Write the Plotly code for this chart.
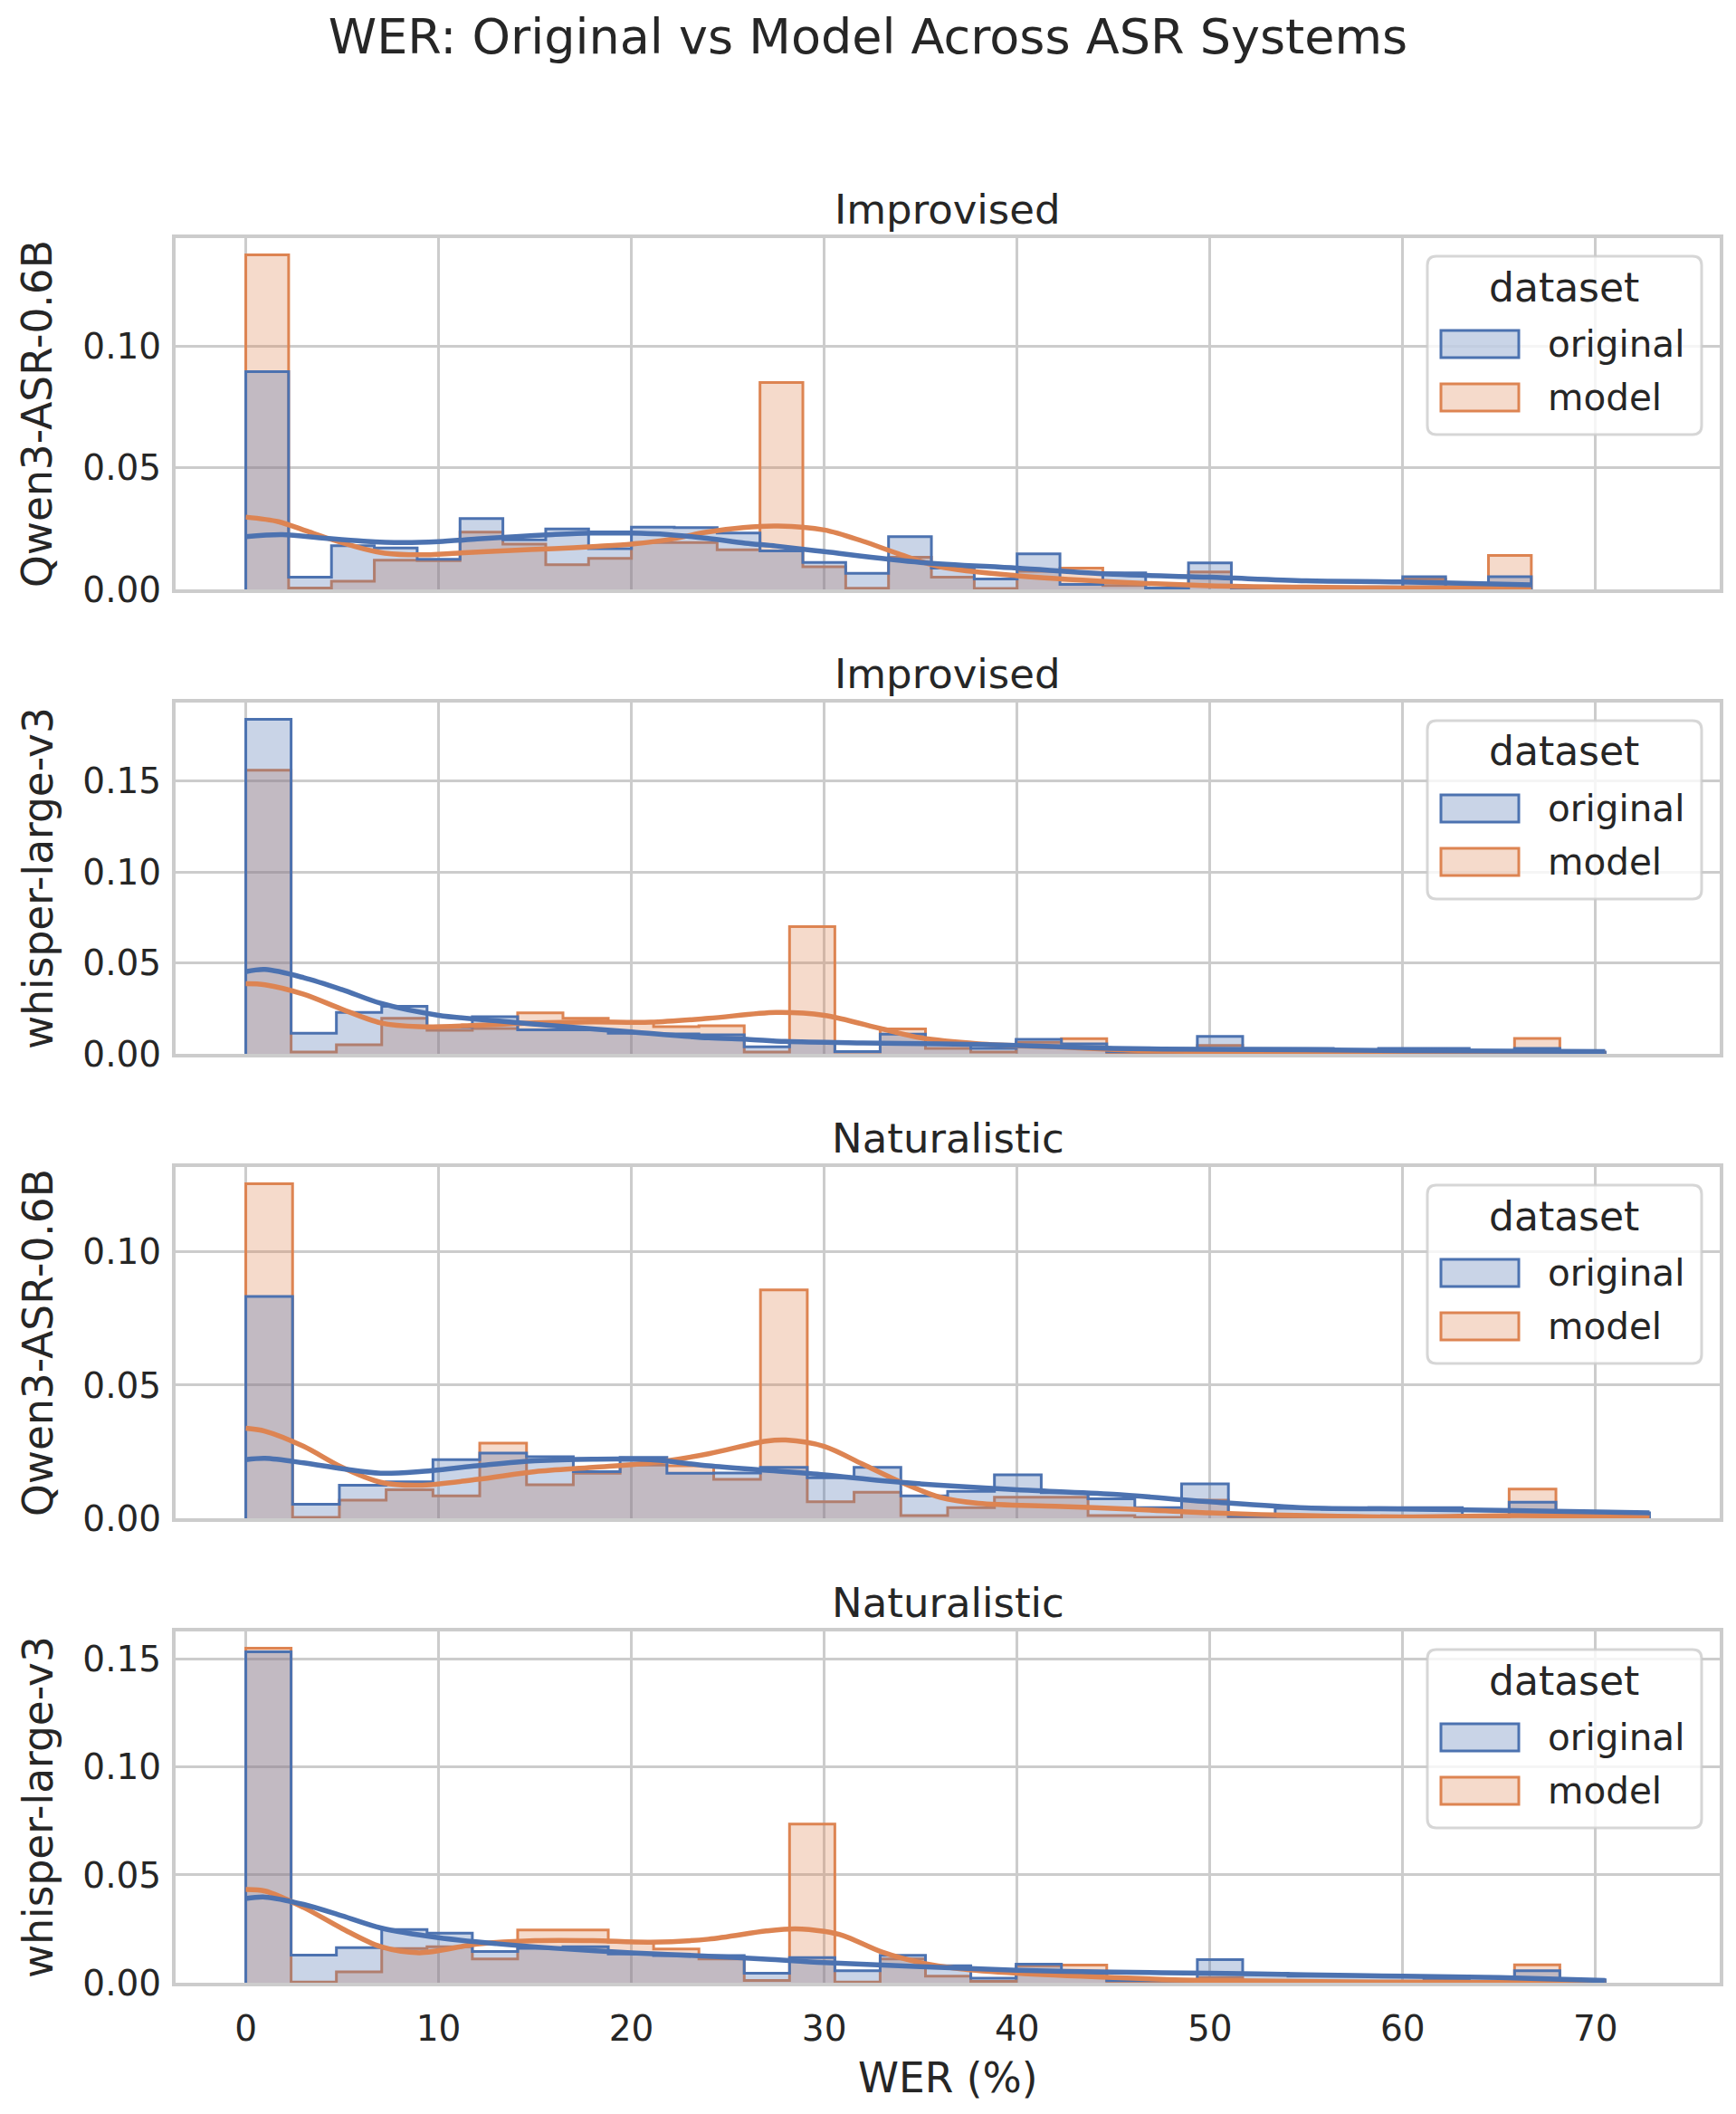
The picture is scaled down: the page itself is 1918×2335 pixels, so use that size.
import numpy as np
import plotly.graph_objects as go

# ---------------- data ----------------
SUPTITLE = "WER: Original vs Model Across ASR Systems"
X_LABEL = "WER (%)"
PANEL_TITLES = ["Improvised", "Improvised", "Naturalistic", "Naturalistic"]
ASR_SYSTEMS = ["Qwen3-ASR-0.6B", "whisper-large-v3", "Qwen3-ASR-0.6B", "whisper-large-v3"]
LEGEND_TITLE = "dataset"
DATASETS = ["original", "model"]
N_BINS = 30
WER_MAX = [66.67, 70.5, 72.8, 70.5]
X_TICKS = [0, 10, 20, 30, 40, 50, 60, 70]
Y_TICKS = [[0.0, 0.05, 0.10], [0.0, 0.05, 0.10, 0.15],
           [0.0, 0.05, 0.10], [0.0, 0.05, 0.10, 0.15]]

# density per bin (30 equal bins from 0 to WER_MAX)
hist_original_1 = [0.0894, 0.0050, 0.0179, 0.0170, 0.0124, 0.0291, 0.0204, 0.0248, 0.0167, 0.0256,
                   0.0254, 0.0231, 0.0158, 0.0111, 0.0066, 0.0217, 0.0087, 0.0043, 0.0146, 0.0020,
                   0.0068, 0.0006, 0.0109, 0.0006, 0.0006, 0.0010, 0.0010, 0.0052, 0.0010, 0.0052]
hist_model_1 = [0.1374, 0.0006, 0.0033, 0.0120, 0.0118, 0.0235, 0.0186, 0.0101, 0.0127, 0.0192,
                0.0192, 0.0163, 0.0850, 0.0093, 0.0005, 0.0132, 0.0050, 0.0004, 0.0074, 0.0087,
                0.0016, 0.0006, 0.0072, 0.0003, 0.0003, 0.0003, 0.0003, 0.0043, 0.0010, 0.0139]

hist_original_2 = [0.1840, 0.0113, 0.0228, 0.0262, 0.0146, 0.0204, 0.0132, 0.0132, 0.0113, 0.0110,
                   0.0104, 0.0038, 0.0063, 0.0013, 0.0108, 0.0055, 0.0030, 0.0080, 0.0055, 0.0013,
                   0.0013, 0.0096, 0.0030, 0.0030, 0.0020, 0.0030, 0.0030, 0.0015, 0.0030, 0.0010]
hist_model_2 = [0.1560, 0.0010, 0.0050, 0.0195, 0.0129, 0.0140, 0.0225, 0.0195, 0.0175, 0.0149,
                0.0154, 0.0010, 0.0700, 0.0010, 0.0137, 0.0030, 0.0010, 0.0063, 0.0083, 0.0005,
                0.0003, 0.0046, 0.0005, 0.0005, 0.0003, 0.0003, 0.0003, 0.0005, 0.0085, 0.0003]

hist_original_3 = [0.0833, 0.0053, 0.0124, 0.0137, 0.0220, 0.0245, 0.0231, 0.0175, 0.0229, 0.0169,
                   0.0170, 0.0191, 0.0152, 0.0191, 0.0084, 0.0101, 0.0163, 0.0096, 0.0073, 0.0040,
                   0.0129, 0.0008, 0.0037, 0.0034, 0.0040, 0.0040, 0.0010, 0.0060, 0.0020, 0.0020]
hist_model_3 = [0.1256, 0.0003, 0.0068, 0.0107, 0.0084, 0.0282, 0.0126, 0.0169, 0.0200, 0.0197,
                0.0146, 0.0857, 0.0062, 0.0098, 0.0010, 0.0040, 0.0079, 0.0079, 0.0010, 0.0003,
                0.0068, 0.0003, 0.0003, 0.0003, 0.0003, 0.0003, 0.0003, 0.0110, 0.0003, 0.0003]

hist_original_4 = [0.1534, 0.0128, 0.0163, 0.0247, 0.0230, 0.0145, 0.0160, 0.0167, 0.0133, 0.0126,
                   0.0126, 0.0044, 0.0116, 0.0056, 0.0127, 0.0079, 0.0021, 0.0086, 0.0044, 0.0010,
                   0.0010, 0.0107, 0.0044, 0.0030, 0.0030, 0.0030, 0.0014, 0.0004, 0.0056, 0.0014]
hist_model_4 = [0.1551, 0.0003, 0.0050, 0.0158, 0.0167, 0.0110, 0.0244, 0.0244, 0.0188, 0.0156,
                0.0110, 0.0010, 0.0736, 0.0003, 0.0110, 0.0030, 0.0006, 0.0079, 0.0082, 0.0003,
                0.0005, 0.0024, 0.0005, 0.0005, 0.0005, 0.0005, 0.0005, 0.0005, 0.0083, 0.0003]

kde_x_original_1 = [0, 1.9, 4.1, 6.1, 8.1, 10, 12, 14, 15.9, 17.9, 19.9, 21.9, 23.9, 25.9, 27.5,
                    30, 35, 40, 45, 50, 55, 60, 66.67]
kde_y_original_1 = [0.0217, 0.0225, 0.0210, 0.0198, 0.0192, 0.0196, 0.0207, 0.0217, 0.0225, 0.0231,
                    0.0231, 0.0225, 0.0210, 0.0190, 0.0178, 0.0155, 0.0111, 0.0087, 0.0062, 0.0050,
                    0.0035, 0.0031, 0.0019]
kde_x_model_1 = [0, 1.7, 3.1, 4.5, 6.1, 7.2, 9, 11, 14, 16, 18, 20, 21.9, 23.9, 25.8, 27.6,
                 30, 32, 34, 36, 40, 45, 50, 55, 60, 66.67]
kde_y_model_1 = [0.0297, 0.0278, 0.0241, 0.0204, 0.0167, 0.0149, 0.0142, 0.0149, 0.0161, 0.0167,
                 0.0176, 0.0186, 0.0204, 0.0235, 0.0254, 0.0260, 0.0244, 0.0198, 0.0142, 0.0093,
                 0.0056, 0.0031, 0.0015, 0.0009, 0.0006, 0.0008]

kde_x_original_2 = [0, 1, 3, 5, 7, 10, 13, 16, 20, 24, 26, 28, 32, 36, 40, 45, 50, 55, 60, 70.5]
kde_y_original_2 = [0.0452, 0.0464, 0.0419, 0.0353, 0.0278, 0.0212, 0.0182, 0.0154, 0.0121, 0.0088,
                    0.0080, 0.0068, 0.0060, 0.0055, 0.0046, 0.0030, 0.0025, 0.0022, 0.0018, 0.0013]
kde_x_model_2 = [0, 1, 3, 5, 7, 9, 12, 15, 18, 21, 24, 27.5, 30, 33, 35, 38, 42, 47, 55, 65, 70.5]
kde_y_model_2 = [0.0386, 0.0380, 0.0328, 0.0245, 0.0170, 0.0149, 0.0157, 0.0170, 0.0175, 0.0174,
                 0.0195, 0.0228, 0.0212, 0.0137, 0.0088, 0.0055, 0.0038, 0.0017, 0.0008, 0.0005,
                 0.0005]

kde_x_original_3 = [0, 1, 3, 5, 7, 9, 12, 15, 18, 21, 24, 27, 30, 33, 36, 40, 45, 50, 55, 60, 65, 72.8]
kde_y_original_3 = [0.0220, 0.0225, 0.0208, 0.0186, 0.0169, 0.0175, 0.0197, 0.0216, 0.0222, 0.0220,
                    0.0197, 0.0180, 0.0163, 0.0141, 0.0124, 0.0107, 0.0090, 0.0062, 0.0039, 0.0035,
                    0.0030, 0.0020]
kde_x_model_3 = [0, 1, 3, 5, 7, 9, 12, 15, 18, 21, 24, 27, 28, 30, 32, 34, 36, 38, 42, 46, 50,
                 55, 60, 66, 72.8]
kde_y_model_3 = [0.0338, 0.0327, 0.0270, 0.0191, 0.0135, 0.0124, 0.0146, 0.0175, 0.0191, 0.0208,
                 0.0242, 0.0290, 0.0294, 0.0270, 0.0203, 0.0135, 0.0079, 0.0056, 0.0045, 0.0034,
                 0.0020, 0.0010, 0.0005, 0.0010, 0.0003]

kde_x_original_4 = [0, 1, 3, 5, 7, 10, 13, 16, 20, 24, 27, 30, 35, 40, 45, 50, 55, 60, 65, 70.5]
kde_y_original_4 = [0.0390, 0.0397, 0.0363, 0.0310, 0.0254, 0.0209, 0.0181, 0.0160, 0.0139, 0.0123,
                    0.0109, 0.0093, 0.0075, 0.0058, 0.0049, 0.0044, 0.0037, 0.0030, 0.0024, 0.0010]
kde_x_model_4 = [0, 1, 3, 5, 7, 9, 12, 15, 18, 21, 24, 27, 28.5, 30, 31, 33, 35, 37, 40, 45, 50,
                 60, 70.5]
kde_y_model_4 = [0.0432, 0.0425, 0.0349, 0.0251, 0.0167, 0.0139, 0.0179, 0.0195, 0.0195, 0.0188,
                 0.0202, 0.0240, 0.0250, 0.0238, 0.0218, 0.0142, 0.0093, 0.0065, 0.0044, 0.0024,
                 0.0010, 0.0003, 0.0002]

HIST_ORIGINAL = [hist_original_1, hist_original_2, hist_original_3, hist_original_4]
HIST_MODEL = [hist_model_1, hist_model_2, hist_model_3, hist_model_4]
KDE_ORIGINAL = [(kde_x_original_1, kde_y_original_1), (kde_x_original_2, kde_y_original_2),
                (kde_x_original_3, kde_y_original_3), (kde_x_original_4, kde_y_original_4)]
KDE_MODEL = [(kde_x_model_1, kde_y_model_1), (kde_x_model_2, kde_y_model_2),
             (kde_x_model_3, kde_y_model_3), (kde_x_model_4, kde_y_model_4)]

# ---------------- styling / layout ----------------
W, H = 1918, 2335
L, R, T, B = 194, 1900, 263, 2191
PANEL_H, PANEL_STEP = 388, 513
FONT = "DejaVu Sans"
TXT = "#262626"
GRID = "#cccccc"
BLUE, ORANGE = "#4C72B0", "#DD8452"
BLUE_FILL, ORANGE_FILL = "rgba(76,114,176,0.3)", "rgba(221,132,82,0.3)"


def px_x(p):
    return (p - L) / (R - L)


def px_y(p):
    return (B - p) / (B - T)


def step_xy(edges, h):
    xs = [edges[0]] + list(edges[:-1]) + [edges[-1], edges[-1]]
    ys = [0.0] + list(h) + [h[-1], 0.0]
    return xs, ys


xmax_all = max(WER_MAX)
x_range = [-0.05 * xmax_all, xmax_all * 1.05]

fig = go.Figure()
annotations = []
shapes = []

for k in range(4):
    xa = "x" if k == 0 else f"x{k+1}"
    ya = "y" if k == 0 else f"y{k+1}"
    edges = np.linspace(0, WER_MAX[k], N_BINS + 1)

    for h, col, fill in [(HIST_MODEL[k], ORANGE, ORANGE_FILL), (HIST_ORIGINAL[k], BLUE, BLUE_FILL)]:
        xs, ys = step_xy(edges, h)
        fig.add_trace(go.Scatter(x=xs, y=ys, mode="lines", line=dict(shape="hv", color=col, width=3),
                                 fill="tozeroy", fillcolor=fill, xaxis=xa, yaxis=ya,
                                 showlegend=False, hoverinfo="skip"))
    for (kx, ky), col in [(KDE_MODEL[k], ORANGE), (KDE_ORIGINAL[k], BLUE)]:
        fig.add_trace(go.Scatter(x=kx, y=ky, mode="lines",
                                 line=dict(shape="spline", smoothing=0.9, color=col, width=5.5),
                                 xaxis=xa, yaxis=ya, showlegend=False, hoverinfo="skip"))

    top = T + k * PANEL_STEP
    bot = top + PANEL_H
    ymax = 1.05 * max(max(HIST_MODEL[k]), max(HIST_ORIGINAL[k]))
    xkey = "xaxis" if k == 0 else f"xaxis{k+1}"
    ykey = "yaxis" if k == 0 else f"yaxis{k+1}"
    fig.layout[xkey] = dict(
        domain=[0, 1], anchor=ya, range=x_range, tickvals=X_TICKS,
        showticklabels=(k == 3), showgrid=True, gridcolor=GRID, gridwidth=3,
        showline=True, linecolor=GRID, linewidth=4, mirror=True, zeroline=False, ticks="",
        tickfont=dict(family=FONT, size=39, color=TXT), ticklabelstandoff=13,
        matches=None if k == 3 else "x4",
    )
    fig.layout[ykey] = dict(
        domain=[px_y(bot), px_y(top)], anchor=xa, range=[0, ymax], tickvals=Y_TICKS[k],
        tickformat=".2f", showgrid=True, gridcolor=GRID, gridwidth=3,
        showline=True, linecolor=GRID, linewidth=4, mirror=True, zeroline=False, ticks="",
        tickfont=dict(family=FONT, size=39, color=TXT), ticklabelstandoff=4,
    )

    # subplot title
    annotations.append(dict(text=PANEL_TITLES[k], x=0.5, y=px_y(top), xref="paper", yref="paper",
                            xanchor="center", yanchor="bottom", yshift=3, showarrow=False,
                            font=dict(family=FONT, size=45, color=TXT)))
    # y axis title
    annotations.append(dict(text=ASR_SYSTEMS[k], x=px_x(42), y=px_y((top + bot) / 2),
                            xref="paper", yref="paper", xanchor="center", yanchor="middle",
                            textangle=-90, showarrow=False,
                            font=dict(family=FONT, size=45.5, color=TXT)))

    # legend (drawn manually)
    lx0, lx1 = 1577, 1880
    ly0, ly1 = top + 20, top + 217
    r = 10
    pts = [("M", lx0 + r, ly0), ("L", lx1 - r, ly0), ("Q", lx1, ly0, lx1, ly0 + r),
           ("L", lx1, ly1 - r), ("Q", lx1, ly1, lx1 - r, ly1), ("L", lx0 + r, ly1),
           ("Q", lx0, ly1, lx0, ly1 - r), ("L", lx0, ly0 + r), ("Q", lx0, ly0, lx0 + r, ly0)]
    path = ""
    for p in pts:
        cmd = p[0]
        coords = p[1:]
        segs = []
        for i in range(0, len(coords), 2):
            segs.append(f"{px_x(coords[i]):.5f},{px_y(coords[i+1]):.5f}")
        path += cmd + " " + " ".join(segs) + " "
    path += "Z"
    shapes.append(dict(type="path", path=path, xref="paper", yref="paper",
                       fillcolor="rgba(255,255,255,0.8)",
                       line=dict(color="rgba(204,204,204,0.8)", width=3), layer="above"))
    annotations.append(dict(text=LEGEND_TITLE, x=px_x(1728), y=px_y(top + 54), xref="paper",
                            yref="paper", xanchor="center", yanchor="middle", showarrow=False,
                            font=dict(family=FONT, size=44, color=TXT)))
    for j, (name, col, fill) in enumerate([(DATASETS[0], BLUE, BLUE_FILL),
                                            (DATASETS[1], ORANGE, ORANGE_FILL)]):
        cy = top + 117 + j * 59
        shapes.append(dict(type="rect", x0=px_x(1592), x1=px_x(1678), y0=px_y(cy + 15),
                           y1=px_y(cy - 15), xref="paper", yref="paper", fillcolor=fill,
                           line=dict(color=col, width=3), layer="above"))
        annotations.append(dict(text=name, x=px_x(1708), y=px_y(cy), xref="paper", yref="paper",
                                xanchor="left", yanchor="middle", showarrow=False,
                                font=dict(family=FONT, size=40.5, color=TXT)))

# x axis title
annotations.append(dict(text=X_LABEL, x=0.5, y=px_y(2295), xref="paper", yref="paper",
                        xanchor="center", yanchor="middle", showarrow=False,
                        font=dict(family=FONT, size=45.5, color=TXT)))

fig.update_layout(
    width=W, height=H,
    margin=dict(l=L, r=W - R, t=T, b=H - B),
    paper_bgcolor="white", plot_bgcolor="white",
    title=dict(text=SUPTITLE, x=0.5, xanchor="center", y=1 - 40 / H, yanchor="middle",
               yref="container", font=dict(family=FONT, size=54, color=TXT)),
    annotations=annotations, shapes=shapes, showlegend=False,
    font=dict(family=FONT, color=TXT),
)

fig.write_html("out.html")
